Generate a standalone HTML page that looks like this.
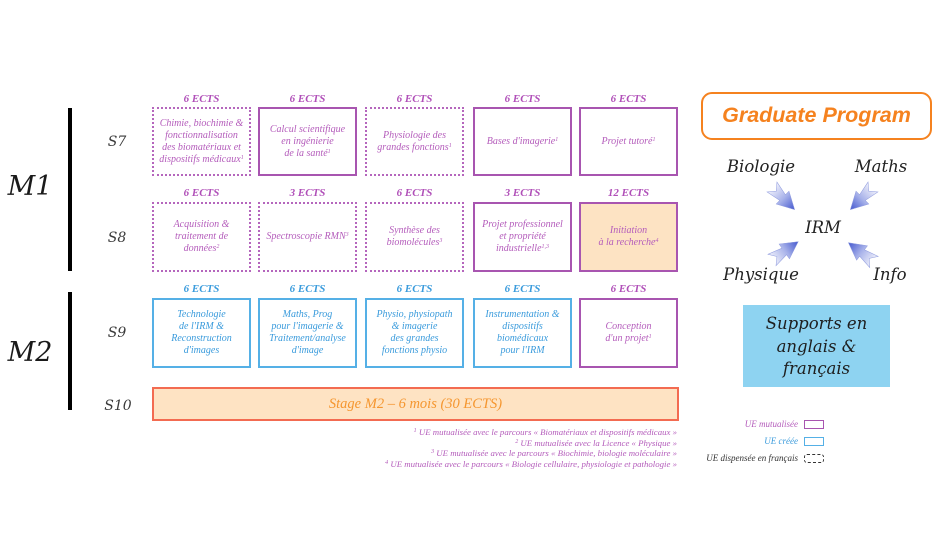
<!DOCTYPE html>
<html><head><meta charset="utf-8">
<style>
html,body{margin:0;padding:0;background:#fff;}
#c{position:relative;width:940px;height:560px;overflow:hidden;background:#fff;font-family:"Liberation Serif",serif;}
.a{position:absolute;}
.b{position:absolute;box-sizing:border-box;width:99px;display:flex;align-items:center;justify-content:center;text-align:center;font-style:italic;font-size:10px;line-height:12px;font-family:"Liberation Serif",serif;}
.b > div{width:100%;}
.p{border:2px solid #a855b0;color:#b45cbb;}
.d{border:2px dotted #b566bd;color:#b45cbb;}
.bl{border:2px solid #55b0e6;color:#3a9bdc;}
.e{position:absolute;width:99px;text-align:center;height:14px;line-height:14px;font:italic bold 11px "Liberation Serif",serif;}
.ep{color:#b04fb8;}
.eb{color:#3a9bdc;}
sup{font-size:6px;vertical-align:3px;line-height:0;}
.s{position:absolute;width:40px;text-align:center;font:italic 14px "DejaVu Serif",serif;color:#3a3a3a;height:20px;line-height:20px;}
.m{position:absolute;width:60px;text-align:center;font:italic 27px "DejaVu Serif",serif;color:#1a1a1a;height:36px;line-height:36px;}
.w{position:absolute;text-align:center;font:italic 16.5px "DejaVu Serif",serif;color:#222;height:22px;line-height:22px;width:110px;}
.fn{position:absolute;right:263px;text-align:right;font:italic 8.8px "Liberation Serif",serif;color:#b45cbb;white-space:nowrap;height:10px;line-height:10px;}
.lg{position:absolute;right:142px;text-align:right;font:italic 9px "Liberation Serif",serif;white-space:nowrap;height:10px;line-height:10px;}
</style></head><body><div id="c">

<!-- bars -->
<div class="a" style="left:68px;top:108px;width:4px;height:163px;background:#000;"></div>
<div class="a" style="left:68px;top:292px;width:4px;height:118px;background:#000;"></div>
<div class="m" style="left:0px;top:169px;">M1</div>
<div class="m" style="left:0px;top:335px;">M2</div>

<div class="s" style="left:97px;top:132px;">S7</div>
<div class="s" style="left:97px;top:228px;">S8</div>
<div class="s" style="left:97px;top:323px;">S9</div>
<div class="s" style="left:98px;top:396px;">S10</div>

<!-- S7 -->
<div class="e ep" style="left:152px;top:93px;">6 ECTS</div>
<div class="e ep" style="left:258px;top:93px;">6 ECTS</div>
<div class="e ep" style="left:365px;top:93px;">6 ECTS</div>
<div class="e ep" style="left:473px;top:93px;">6 ECTS</div>
<div class="e ep" style="left:579px;top:93px;">6 ECTS</div>
<div class="b d" style="left:152px;top:107px;height:69px;"><div>Chimie, biochimie &amp;<br>fonctionnalisation<br>des biomatériaux et<br>dispositifs médicaux<sup>1</sup></div></div>
<div class="b p" style="left:258px;top:107px;height:69px;"><div>Calcul scientifique<br>en ingénierie<br>de la santé<sup>1</sup></div></div>
<div class="b d" style="left:365px;top:107px;height:69px;"><div>Physiologie des<br>grandes fonctions<sup>1</sup></div></div>
<div class="b p" style="left:473px;top:107px;height:69px;"><div>Bases d'imagerie<sup>1</sup></div></div>
<div class="b p" style="left:579px;top:107px;height:69px;"><div>Projet tutoré<sup>1</sup></div></div>

<!-- S8 -->
<div class="e ep" style="left:152px;top:187px;">6 ECTS</div>
<div class="e ep" style="left:258px;top:187px;">3 ECTS</div>
<div class="e ep" style="left:365px;top:187px;">6 ECTS</div>
<div class="e ep" style="left:473px;top:187px;">3 ECTS</div>
<div class="e ep" style="left:579px;top:187px;">12 ECTS</div>
<div class="b d" style="left:152px;top:202px;height:70px;"><div>Acquisition &amp;<br>traitement de<br>données<sup>2</sup></div></div>
<div class="b d" style="left:258px;top:202px;height:70px;"><div>Spectroscopie RMN<sup>3</sup></div></div>
<div class="b d" style="left:365px;top:202px;height:70px;"><div>Synthèse des<br>biomolécules<sup>3</sup></div></div>
<div class="b p" style="left:473px;top:202px;height:70px;"><div>Projet professionnel<br>et propriété<br>industrielle<sup>1,3</sup></div></div>
<div class="b p" style="left:579px;top:202px;height:70px;background:#fde3c3;"><div>Initiation<br>à la recherche<sup>4</sup></div></div>

<!-- S9 -->
<div class="e eb" style="left:152px;top:283px;">6 ECTS</div>
<div class="e eb" style="left:258px;top:283px;">6 ECTS</div>
<div class="e eb" style="left:365px;top:283px;">6 ECTS</div>
<div class="e eb" style="left:473px;top:283px;">6 ECTS</div>
<div class="e ep" style="left:579px;top:283px;">6 ECTS</div>
<div class="b bl" style="left:152px;top:298px;height:70px;"><div>Technologie<br>de l'IRM &amp;<br>Reconstruction<br>d'images</div></div>
<div class="b bl" style="left:258px;top:298px;height:70px;"><div>Maths, Prog<br>pour l'imagerie &amp;<br>Traitement/analyse<br>d'image</div></div>
<div class="b bl" style="left:365px;top:298px;height:70px;"><div>Physio, physiopath<br>&amp; imagerie<br>des grandes<br>fonctions physio</div></div>
<div class="b bl" style="left:473px;top:298px;height:70px;"><div>Instrumentation &amp;<br>dispositifs<br>biomédicaux<br>pour l'IRM</div></div>
<div class="b p" style="left:579px;top:298px;height:70px;"><div>Conception<br>d'un projet<sup>1</sup></div></div>

<!-- S10 -->
<div class="a" style="left:152px;top:387px;width:527px;height:34px;box-sizing:border-box;border:2px solid #f36b51;background:#fee3c3;text-align:center;font:italic 14.5px/30px 'Liberation Serif',serif;color:#f5962f;">Stage M2 – 6 mois (30 ECTS)</div>

<!-- footnotes -->
<div class="fn" style="top:427px;"><sup>1</sup> UE mutualisée avec le parcours « Biomatériaux et dispositifs médicaux »</div>
<div class="fn" style="top:437.5px;"><sup>2</sup> UE mutualisée avec la Licence « Physique »</div>
<div class="fn" style="top:448px;"><sup>3</sup> UE mutualisée avec le parcours « Biochimie, biologie moléculaire »</div>
<div class="fn" style="top:459px;"><sup>4</sup> UE mutualisée avec le parcours « Biologie cellulaire, physiologie et pathologie »</div>

<!-- Graduate program -->
<div class="a" style="left:701px;top:92px;width:231px;height:48px;box-sizing:border-box;border:2.5px solid #f5821f;border-radius:11px;text-align:center;font:italic bold 21.5px/43px 'Liberation Sans',sans-serif;color:#f5821f;">Graduate Program</div>

<div class="w" style="left:706px;top:156px;">Biologie</div>
<div class="w" style="left:826px;top:156px;">Maths</div>
<div class="w" style="left:768px;top:217px;">IRM</div>
<div class="w" style="left:706px;top:264px;">Physique</div>
<div class="w" style="left:835px;top:264px;">Info</div>

<svg class="a" style="left:0;top:0;" width="940" height="560" viewBox="0 0 940 560">
<defs>
<linearGradient id="g" x1="0" y1="0" x2="1" y2="0">
<stop offset="0" stop-color="#f0f1fb"/>
<stop offset="0.5" stop-color="#a9b3ea"/>
<stop offset="1" stop-color="#4458cf"/>
</linearGradient>
</defs>
<g fill="url(#g)" stroke="#8e9ade" stroke-width="0.5">
<polygon transform="translate(772,187) rotate(45)" points="0,-7 15,-4 15,-9 32,0 15,9 15,4 0,7 6,0"/>
<polygon transform="translate(873,187) rotate(135)" points="0,-7 15,-4 15,-9 32,0 15,9 15,4 0,7 6,0"/>
<polygon transform="translate(772,260) rotate(-35)" points="0,-7 15,-4 15,-9 32,0 15,9 15,4 0,7 6,0"/>
<polygon transform="translate(874,262) rotate(-143)" points="0,-7 15,-4 15,-9 32,0 15,9 15,4 0,7 6,0"/>
</g>
</svg>

<!-- supports -->
<div class="a" style="left:743px;top:305px;width:147px;height:82px;background:#8ed3f1;text-align:center;font:italic 16.5px/22.5px 'DejaVu Serif',serif;color:#1e1e1e;padding-top:8px;box-sizing:border-box;">Supports en<br>anglais &amp;<br>français</div>

<!-- legend -->
<div class="lg" style="top:419px;color:#b45cbb;">UE mutualisée</div>
<div class="a" style="left:804px;top:420px;width:20px;height:9px;box-sizing:border-box;border:1.5px solid #a855b0;"></div>
<div class="lg" style="top:436px;color:#3a9bdc;">UE créée</div>
<div class="a" style="left:804px;top:437px;width:20px;height:9px;box-sizing:border-box;border:1.5px solid #55b0e6;"></div>
<div class="lg" style="top:453px;color:#333;">UE dispensée en français</div>
<div class="a" style="left:804px;top:454px;width:20px;height:9px;box-sizing:border-box;border:1.2px dashed #333;border-radius:3px;"></div>

</div></body></html>
